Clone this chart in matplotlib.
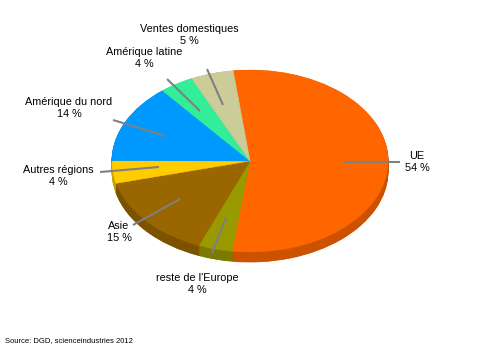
import matplotlib
matplotlib.use("Agg")
import matplotlib.pyplot as plt
import numpy as np

# Data
categories = ["UE", "reste de l'Europe", "Asie", "Autres régions",
              "Amérique du nord", "Amérique latine", "Ventes domestiques"]
values = [54, 4, 15, 4, 14, 4, 5]
pct_labels = ["54 %", "4 %", "15 %", "4 %", "14 %", "4 %", "5 %"]
source_text = "Source: DGD, scienceindustries 2012"

top_colors = ["#FF6600", "#999900", "#996600", "#FFCC00", "#0099FF", "#33EE99", "#CCCC99"]
side_colors = ["#CC5200", "#7A7A00", "#7A5200", "#CCA300", "#007ACC", "#29BE7A", "#A3A37A"]

W, H = 500, 354
cx, cy, rx, ry = 250, 161, 138, 91
depth_px = 10

fig = plt.figure(figsize=(W / 100, H / 100), dpi=100)
fig.patch.set_facecolor("white")
ax = fig.add_axes([0, 0, 1, 1])

depth = depth_px / ry
for k in np.linspace(-depth, -0.005, 14):
    ax.pie(values, colors=side_colors, startangle=97, counterclock=False,
           center=(0, k), radius=1, wedgeprops=dict(linewidth=0.6), frame=False)
for p in list(ax.patches):
    p.set_edgecolor(p.get_facecolor())
wedges, _ = ax.pie(values, colors=top_colors, startangle=97, counterclock=False,
                   center=(0, 0), radius=1, wedgeprops=dict(linewidth=0), frame=False)
for w, c in zip(wedges, top_colors):
    w.set_edgecolor(c)
    w.set_linewidth(0.3)

ax.set_aspect("auto")
ax.set_xlim((0 - cx) / rx, (W - cx) / rx)
ax.set_ylim((cy - H) / ry, cy / ry)
ax.axis("off")

# overlay for labels (pixel coordinates)
ax2 = fig.add_axes([0, 0, 1, 1])
ax2.set_xlim(0, W)
ax2.set_ylim(H, 0)
ax2.axis("off")
ax2.patch.set_alpha(0)

label_pos = [(417, 162), (197, 284), (119, 232), (58, 176),
             (69, 108), (144, 58), (189, 35)]
line_pts = [((343, 162), (400, 162)),
            ((226, 218), (212, 253)),
            ((180, 199), (133, 225)),
            ((159, 167), (100, 172)),
            ((166, 136), (113, 120)),
            ((200, 111), (167, 79)),
            ((223, 105), (207, 69))]

for cat, pct, (lx, ly), (p0, p1) in zip(categories, pct_labels, label_pos, line_pts):
    ax2.plot([p0[0], p1[0]], [p0[1], p1[1]], color="#808080", lw=1.5, solid_capstyle="butt")
    ax2.text(lx, ly, cat + "\n" + pct, ha="center", va="center", fontsize=7.8,
             family="Liberation Sans", linespacing=1.32, color="#000000")

ax2.text(5, 341, source_text, ha="left", va="center", fontsize=5.5,
         family="Liberation Sans", color="#000000")

fig.savefig("out.png", dpi=100, facecolor="white")
